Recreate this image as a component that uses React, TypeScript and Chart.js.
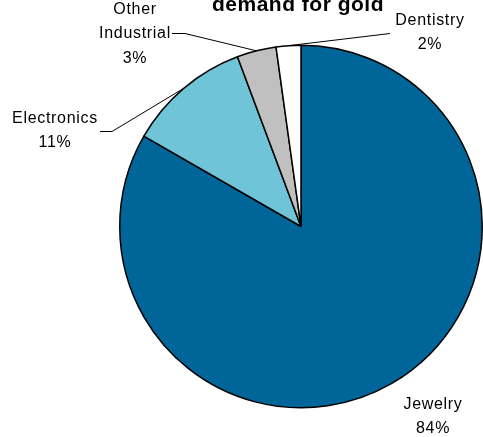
import React, { useEffect, useRef } from "react";
import { Chart, registerables } from "chart.js";

Chart.register(...registerables);

const categories = ["Jewelry", "Electronics", "Other Industrial", "Dentistry"];
const shares = [83.3, 11.0, 3.5, 2.2];
const pctLabels = ["84%", "11%", "3%", "2%"];
const sliceColors = ["#006699", "#6FC4D8", "#C0C0C0", "#FFFFFF"];
const titleText = "demand for gold";

// label text lines per slice (name lines followed by the percentage)
const labelNames = [["Jewelry"], ["Electronics"], ["Other", "Industrial"], ["Dentistry"]];
// label centre offsets relative to the pie centre (px)
const labelOffsets = [
  [132, 178],
  [-246, -108],
  [-166, -217],
  [129, -206],
];
// leader elbow/end points relative to pie centre (null = no leader)
const leaderPoints: (number[][] | null)[] = [
  null,
  [[-189, -95], [-201, -95]],
  [[-116, -193], [-129, -193]],
  [[89, -193]],
];

const labelPlugin = {
  id: "outerLabels",
  afterDraw(chart: any) {
    const ctx = chart.ctx;
    const meta = chart.getDatasetMeta(0);
    ctx.save();
    // title (upper part falls outside the canvas, as in the reference)
    ctx.font = "bold 21px 'Liberation Sans', Arial, sans-serif";
    (ctx as any).letterSpacing = "0.5px";
    ctx.fillStyle = "#000";
    ctx.textAlign = "center";
    ctx.textBaseline = "alphabetic";
    ctx.fillText(titleText, 298, 10.5);

    ctx.font = "16px 'Liberation Sans', Arial, sans-serif";
    (ctx as any).letterSpacing = "0.7px";
    ctx.textBaseline = "middle";
    meta.data.forEach((arc: any, i: number) => {
      const { x, y, startAngle, endAngle, outerRadius } = arc.getProps(
        ["x", "y", "startAngle", "endAngle", "outerRadius"],
        true
      );
      const mid = (startAngle + endAngle) / 2;
      const ex = x + Math.cos(mid) * outerRadius;
      const ey = y + Math.sin(mid) * outerRadius;
      const pts = leaderPoints[i];
      if (pts) {
        ctx.beginPath();
        ctx.strokeStyle = "#000";
        ctx.lineWidth = 1;
        ctx.moveTo(ex, ey);
        pts.forEach((p) => ctx.lineTo(x + p[0], y + p[1]));
        ctx.stroke();
      }
      const lines = [...labelNames[i], pctLabels[i]];
      const lx = x + labelOffsets[i][0];
      const ly = y + labelOffsets[i][1];
      const lh = 24.5;
      lines.forEach((t, k) => {
        ctx.fillText(t, lx, ly + k * lh);
      });
    });
    ctx.restore();
  },
};

export default function App() {
  const ref = useRef<HTMLCanvasElement>(null);
  useEffect(() => {
    document.body.style.margin = "0";
    const chart = new Chart(ref.current!, {
      type: "pie",
      data: {
        labels: categories,
        datasets: [
          {
            data: shares,
            backgroundColor: sliceColors,
            borderColor: "#000000",
            borderWidth: 1.5,
            hoverOffset: 0,
          },
        ],
      },
      options: {
        animation: false,
        responsive: false,
        maintainAspectRatio: false,
        layout: { padding: { left: 119, right: 0, top: 44, bottom: 28 } },
        plugins: {
          legend: { display: false },
          tooltip: { enabled: false },
          title: { display: false },
        },
      },
      plugins: [labelPlugin],
    });
    return () => chart.destroy();
  }, []);
  return (
    <div style={{ position: "absolute", left: 0, top: 0, width: 483, height: 437, background: "#fff" }}>
      <canvas ref={ref} width={483} height={437} style={{ width: 483, height: 437 }} />
    </div>
  );
}
